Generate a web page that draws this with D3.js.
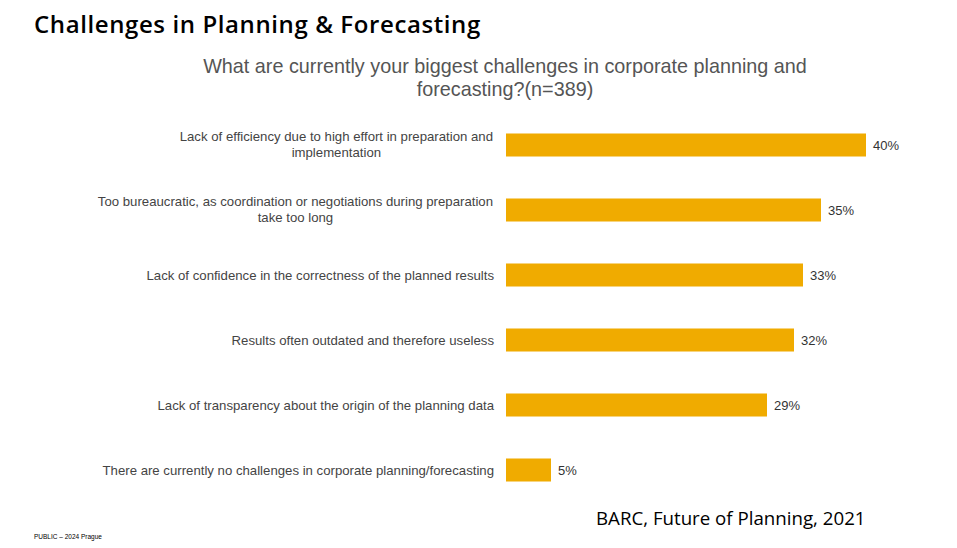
<!DOCTYPE html>
<html><head><meta charset="utf-8">
<script src="https://cdn.jsdelivr.net/npm/d3@7"></script>
<style>body{margin:0;background:#fff;} svg{display:block;}</style>
</head><body>
<svg id="c" width="957" height="548"></svg>
<script>
const categories = [
  ["Lack of efficiency due to high effort in preparation and", "implementation"],
  ["Too bureaucratic, as coordination or negotiations during preparation", "take too long"],
  ["Lack of confidence in the correctness of the planned results"],
  ["Results often outdated and therefore useless"],
  ["Lack of transparency about the origin of the planning data"],
  ["There are currently no challenges in corporate planning/forecasting"]
];
const values = [40, 35, 33, 32, 29, 5];
const valueLabels = ["40%", "35%", "33%", "32%", "29%", "5%"];

const svg = d3.select("#c");
const x = d3.scaleLinear().domain([0, 40]).range([506, 866]);
const y = d3.scaleBand().domain(d3.range(values.length)).range([112.5, 502.5]).paddingInner(0.646).paddingOuter(0.323);

svg.append("text").attr("x", 34).attr("y", 33)
  .attr("font-family", "'Open Sans', sans-serif").attr("font-weight", 600)
  .attr("font-size", 24).attr("letter-spacing", 0.6).attr("fill", "#000").text("Challenges in Planning & Forecasting");

const sub = svg.append("text").attr("text-anchor", "middle")
  .attr("font-family", "'Liberation Sans', Arial, sans-serif").attr("font-size", 19.8).attr("fill", "#555");
sub.append("tspan").attr("x", 505).attr("y", 73).text("What are currently your biggest challenges in corporate planning and");
sub.append("tspan").attr("x", 505).attr("y", 96).text("forecasting?(n=389)");

const g = svg.append("g");
g.selectAll("rect").data(values).join("rect")
  .attr("x", x(0)).attr("y", (d, i) => y(i))
  .attr("width", d => x(d) - x(0)).attr("height", y.bandwidth())
  .attr("fill", "#F0AB00");

g.selectAll("text.v").data(values).join("text").attr("class", "v")
  .attr("x", d => x(d) + 7).attr("y", (d, i) => y(i) + y.bandwidth() / 2 + 4.5)
  .attr("font-family", "'Liberation Sans', Arial, sans-serif").attr("font-size", 13).attr("fill", "#333")
  .text((d, i) => valueLabels[i]);

categories.forEach((lines, i) => {
  const cy = y(i) + y.bandwidth() / 2;
  const t = g.append("text").attr("text-anchor", "middle")
    .attr("font-family", "'Liberation Sans', Arial, sans-serif").attr("font-size", 13.2).attr("fill", "#444");
  if (lines.length === 1) {
    t.attr("text-anchor", "end").append("tspan").attr("x", 494).attr("y", cy + 4.5).text(lines[0]);
  } else {
    const tmp = t.append("tspan").attr("x", 0).attr("y", cy - 4).text(lines[0]);
    const w = tmp.node().getComputedTextLength();
    const mid = 493 - w / 2;
    tmp.attr("x", mid);
    t.append("tspan").attr("x", mid).attr("y", cy + 12).text(lines[1]);
  }
});

svg.append("text").attr("x", 596).attr("y", 525)
  .attr("font-family", "'Open Sans', sans-serif").attr("font-size", 18.7).attr("fill", "#000")
  .text("BARC, Future of Planning, 2021");

svg.append("text").attr("x", 34).attr("y", 539)
  .attr("font-family", "'Liberation Sans', Arial, sans-serif").attr("font-size", 6.5).attr("fill", "#000")
  .text("PUBLIC – 2024 Prague");
</script>
</body></html>
